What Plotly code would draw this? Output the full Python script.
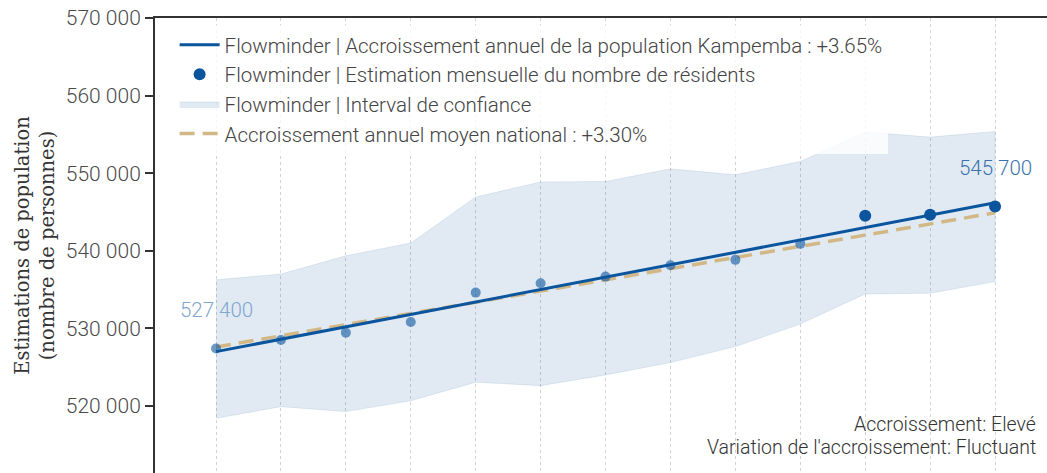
import plotly.graph_objects as go

# ---- data ----
months = list(range(13))
residents = [527400, 528500, 529450, 530830, 534610, 535820, 536670,
             538140, 538830, 540890, 544500, 544630, 545700]
ci_upper = [536260, 537000, 539350, 541000, 546930, 548870, 548930,
            550560, 549790, 551500, 555300, 554650, 555380]
ci_lower = [518410, 519910, 519270, 520680, 523060, 522620, 524000,
            525590, 527650, 530560, 534440, 534530, 536030]
trend_x = [0, 12]
trend_y = [527000, 546200]
national_x = [0, 12]
national_y = [527600, 544900]
y_ticks = [520000, 530000, 540000, 550000, 560000, 570000]
n_light = 10  # first points drawn lighter

names = {
    "trend": "Flowminder | Accroissement annuel de la population Kampemba : +3.65%",
    "dots": "Flowminder | Estimation mensuelle du nombre de résidents",
    "ci": "Flowminder | Interval de confiance",
    "nat": "Accroissement annuel moyen national : +3.30%",
}

DARK = "#0b559f"
FONT = dict(family="Roboto", weight=300, color="#444")

fig = go.Figure()

# confidence band
fig.add_trace(go.Scatter(
    x=months + months[::-1], y=ci_upper + ci_lower[::-1],
    fill="toself", fillcolor="rgba(11,85,159,0.12)",
    line=dict(color="rgba(11,85,159,0.10)", width=1),
    mode="lines", name=names["ci"], legendrank=3, hoverinfo="skip"))

# national dashed
fig.add_trace(go.Scatter(
    x=national_x, y=national_y, mode="lines", name=names["nat"],
    line=dict(color="#d2b886", width=3.5, dash="15px,8px"), legendrank=4))

# trend line
fig.add_trace(go.Scatter(
    x=trend_x, y=trend_y, mode="lines", name=names["trend"],
    line=dict(color=DARK, width=3), legendrank=1))

# lighter monthly points
fig.add_trace(go.Scatter(
    x=months[:n_light], y=residents[:n_light], mode="markers",
    marker=dict(color="rgba(11,85,159,0.6)", size=10),
    showlegend=False))

# dark monthly points
fig.add_trace(go.Scatter(
    x=months[n_light:], y=residents[n_light:], mode="markers",
    marker=dict(color=DARK, size=12), name=names["dots"], legendrank=2))

fig.add_annotation(x=months[0], y=residents[0], text="527 400", showarrow=False,
                   yshift=39, font=dict(family="Roboto", weight=300, size=20.5, color="#7fa6cd"))
fig.add_annotation(x=months[-1], y=residents[-1], text="545 700", showarrow=False,
                   yshift=39, font=dict(family="Roboto", weight=300, size=20.5, color="#3c72ab"))

fig.add_annotation(xref="paper", yref="paper", x=0.99, y=0.1055, xanchor="right",
                   yanchor="middle", showarrow=False, align="right",
                   text="Accroissement: Elevé",
                   font=dict(family="Roboto", weight=300, size=19.5, color="#333"))
fig.add_annotation(xref="paper", yref="paper", x=0.99, y=0.057, xanchor="right",
                   yanchor="middle", showarrow=False, align="right",
                   text="Variation de l'accroissement: Fluctuant",
                   font=dict(family="Roboto", weight=300, size=19.5, color="#333"))

fig.update_layout(
    width=1047, height=473,
    margin=dict(l=155, r=0, t=18, b=0),
    paper_bgcolor="white", plot_bgcolor="white",
    separators=", ",
    font=FONT,
    showlegend=True,
    legend=dict(x=0.022, y=0.985, xanchor="left", yanchor="top",
                bgcolor="rgba(255,255,255,0.8)", borderwidth=0,
                font=dict(family="Roboto", weight=300, size=20.5, color="#444"),
                itemwidth=40),
    xaxis=dict(range=[-0.94, 12.8], tickvals=months, showticklabels=False,
               ticks="", side="top", showline=True, linecolor="#333", linewidth=2,
               showgrid=True, gridcolor="#d2d2d2", griddash="dot", gridwidth=1.2,
               zeroline=False),
    yaxis=dict(range=[511360, 570000], tickvals=y_ticks, tickformat=",d",
               ticks="outside", ticklen=8, tickwidth=1.5, tickcolor="#333",
               showline=True, linecolor="#333", linewidth=2,
               showgrid=False, zeroline=False,
               tickfont=dict(family="Roboto", weight=300, size=21, color="#4a4a4a"),
               title=dict(text="Estimations de population<br>(nombre de personnes)",
                          font=dict(family="DejaVu Serif", size=19.5, color="#333"),
                          standoff=6)),
)

fig.write_html("out.html", config={"displayModeBar": False},
               post_script="document.body.style.margin='0px';document.body.style.overflow='hidden';")
